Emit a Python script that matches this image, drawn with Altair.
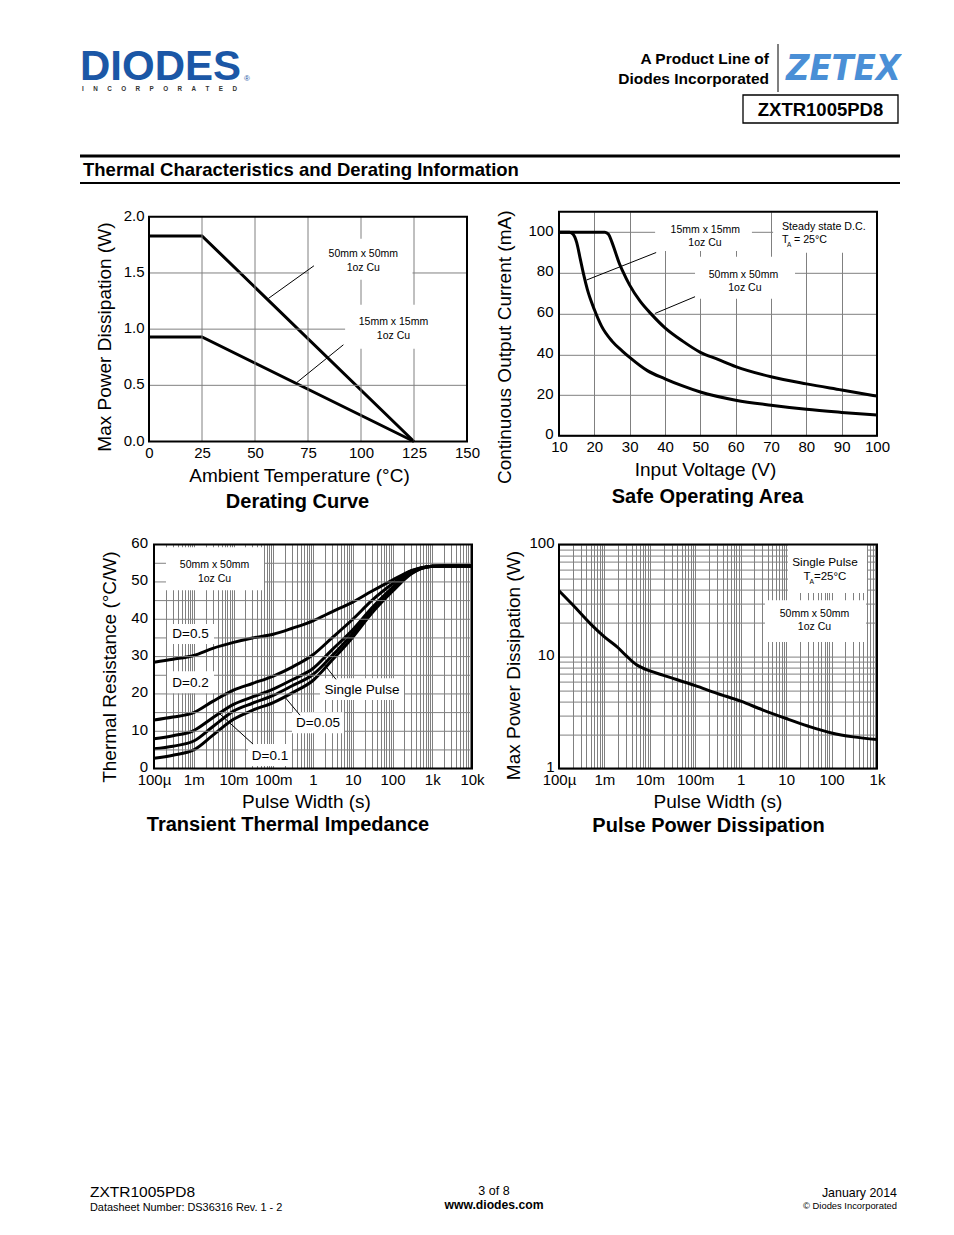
import altair as alt
import pandas as pd

FONT = "Liberation Sans"
GRID = "#808080"
ONE = pd.DataFrame({"k": [0]})

# ---------------- Derating curve ----------------
derate_temp = [0, 25, 125]
derate_50mm = [1.83, 1.83, 0.0]
derate_15mm = [0.93, 0.93, 0.0]
derate_xticks = [0, 25, 50, 75, 100, 125, 150]
derate_yticks = [0.0, 0.5, 1.0, 1.5, 2.0]

# ---------------- Safe operating area ----------------
soa_v_50mm = [10, 15, 20, 23, 24, 25, 26, 27, 28, 30, 33, 36, 40, 45, 50, 55, 60, 70, 80, 90, 100]
soa_i_50mm = [100, 100, 100, 100, 99, 95, 90, 85, 81, 74, 66, 60, 53, 46.5, 41, 37.5, 34, 29, 25.5, 22.5, 19.5]
soa_v_15mm = [10, 13, 14, 15, 16, 17, 18, 20, 22, 25, 28, 30, 35, 40, 45, 50, 60, 70, 80, 90, 100]
soa_i_15mm = [100, 100, 99, 95, 87, 79, 72, 62, 54, 46.5, 41.5, 38.5, 32, 28, 24.5, 21.5, 17.5, 15, 13, 11.5, 10.2]
soa_xticks = [10, 20, 30, 40, 50, 60, 70, 80, 90, 100]
soa_yticks = [0, 20, 40, 60, 80, 100]

# ---------------- Transient thermal impedance ----------------
tti_t = [1e-4, 3e-4, 1e-3, 3e-3, 1e-2, 3e-2, 1e-1, 3e-1, 1, 3, 10, 30, 100, 300, 1e3, 2e3, 1e4]
tti_d05 = [28.5, 29.3, 30.3, 32.2, 33.8, 35.0, 36.0, 37.6, 39.6, 42.0, 44.6, 47.5, 50.5, 53.0, 54.2, 54.3, 54.3]
tti_d02 = [13.0, 13.8, 15.0, 18.0, 21.0, 22.8, 24.8, 27.2, 30.5, 35.0, 40.0, 45.0, 49.5, 53.0, 54.2, 54.3, 54.3]
tti_d01 = [8.0, 8.8, 10.2, 13.6, 17.2, 19.2, 21.3, 23.8, 26.8, 31.8, 37.2, 43.0, 48.5, 52.6, 54.2, 54.3, 54.3]
tti_d005 = [5.3, 6.0, 7.4, 11.2, 15.4, 17.5, 19.6, 22.2, 25.2, 30.2, 36.2, 42.3, 48.0, 52.4, 54.2, 54.3, 54.3]
tti_single = [2.8, 3.6, 5.0, 8.9, 13.2, 15.6, 17.7, 20.3, 23.6, 29.0, 35.2, 41.6, 47.5, 52.2, 54.2, 54.3, 54.3]
tti_x_labels = ["100µ", "1m", "10m", "100m", "1", "10", "100", "1k", "10k"]
tti_yticks = [0, 10, 20, 30, 40, 50, 60]
tti_ygrid = [5, 10, 15, 20, 25, 30, 35, 40, 45, 50, 55]

# ---------------- Pulse power dissipation ----------------
ppd_t = [1e-4, 2e-4, 5e-4, 1e-3, 2e-3, 3e-3, 5e-3, 7e-3, 1e-2, 2e-2, 3e-2, 1e-1, 3e-1, 1, 3, 10, 30, 100, 300, 1e3]
ppd_p = [38.7, 29, 19.5, 15, 12, 10.2, 8.5, 7.9, 7.45, 6.8, 6.45, 5.5, 4.7, 4.0, 3.35, 2.8, 2.4, 2.08, 1.92, 1.82]
ppd_x_labels = ["100µ", "1m", "10m", "100m", "1", "10", "100", "1k"]
ppd_y_labels = ["1", "10", "100"]


# ---------------- helpers ----------------
def log_values(kmin, kmax):
    vals = []
    for k in range(kmin, kmax):
        for m in range(1, 10):
            vals.append(m * 10.0 ** k)
    vals.append(10.0 ** kmax)
    return vals


def decade_expr(labels, kmin):
    arr = "[" + ",".join("'" + s + "'" for s in labels) + "]"
    e = "log(datum.value)/LN10"
    return f"abs({e} - round({e})) > 0.01 ? '' : {arr}[round({e}) - ({kmin})]"


def ptext(txt, x, y, size, weight="normal", align="left", color="black", style="normal", font=FONT):
    return alt.Chart(ONE).mark_text(
        text=txt, font=font, fontSize=size, fontWeight=weight, fontStyle=style,
        align=align, baseline="alphabetic", color=color,
    ).encode(x=alt.value(x), y=alt.value(y))


def prule(x0, x1, y0, y1, width, color="black"):
    return alt.Chart(ONE).mark_rule(color=color, strokeWidth=width).encode(
        x=alt.value(x0), x2=alt.value(x1), y=alt.value(y0), y2=alt.value(y1))


def make_enc(sx, ax, sy, ay):
    def X(f):
        return alt.X(f, type="quantitative", scale=sx, axis=ax)

    def Y(f):
        return alt.Y(f, type="quantitative", scale=sy, axis=ay)
    return X, Y


def rect_layer(x0, x1, y0, y1, X, Y, **mk):
    df = pd.DataFrame({"x0": x0, "x1": x1, "y0": y0, "y1": y1})
    return alt.Chart(df).mark_rect(**mk).encode(
        x=X("x0"), x2=alt.X2("x1"), y=Y("y0"), y2=alt.Y2("y1"))


def seg_layer(x0, y0, x1, y1, X, Y, width=1, color="black"):
    df = pd.DataFrame({"x0": x0, "y0": y0, "x1": x1, "y1": y1})
    return alt.Chart(df).mark_rule(color=color, strokeWidth=width).encode(
        x=X("x0"), y=Y("y0"), x2=alt.X2("x1"), y2=alt.Y2("y1"))


def text_layer(xs, ys, texts, X, Y, size, align="center", dx=0, dy=0):
    df = pd.DataFrame({"x": xs, "y": ys, "t": texts})
    return alt.Chart(df).mark_text(
        font=FONT, fontSize=size, align=align, baseline="alphabetic", color="black", dx=dx, dy=dy
    ).encode(x=X("x"), y=Y("y"), text="t:N")


def frame(x0, x1, y0, y1, X, Y):
    return rect_layer([x0], [x1], [y0], [y1], X, Y, fillOpacity=0, stroke="black", strokeWidth=2)


def spacer(w, h):
    return alt.Chart(ONE).mark_point(size=0, opacity=0).encode(
        x=alt.value(w / 2), y=alt.value(h / 2)).properties(width=w, height=h)


# ================= Derating chart =================
dX, dY = make_enc(
    alt.Scale(domain=[0, 150], nice=False, zero=False),
    alt.Axis(values=derate_xticks, format="d", grid=False, labelPadding=4,
             title="Ambient Temperature (°C)", titleX=150, titleY=39.5),
    alt.Scale(domain=[0, 2.0445], nice=False, zero=False),
    alt.Axis(values=derate_yticks, format=".1f", grid=False, labelPadding=5, labelOffset=-1.5,
             title="Max Power Dissipation (W)", titleX=-38.5, titleY=124.8, titleAngle=270),
)
derate_df = pd.DataFrame({
    "T": derate_temp + derate_temp,
    "P": derate_50mm + derate_15mm,
    "s": ["50mm"] * len(derate_temp) + ["15mm"] * len(derate_temp),
})
d_lines = alt.Chart(derate_df).mark_line(color="black", strokeWidth=3).encode(
    x=dX("T"), y=dY("P"), detail="s:N")
d_vgrid = seg_layer([25, 50, 75, 100, 125], [0] * 5, [25, 50, 75, 100, 125], [2.0] * 5, dX, dY, color=GRID)
d_hgrid = seg_layer([0] * 3, [0.5, 1.0, 1.5], [150] * 3, [0.5, 1.0, 1.5], dX, dY, color=GRID)
d_boxes = rect_layer([75.5, 92.5], [124.3, 150], [1.804, 1.217], [1.439, 0.825], dX, dY, color="white")
d_leaders = seg_layer([56.3, 69.7], [1.273, 0.525], [77.8, 91.7], [1.564, 0.861], dX, dY)
d_texts = text_layer([101.1, 101.1, 115.3, 115.3], [1.641, 1.519, 1.039, 0.914],
                     ["50mm x 50mm", "1oz Cu", "15mm x 15mm", "1oz Cu"], dX, dY, 10.5)
d_caption = ptext("Derating Curve", 148.5, 296.3, 20, weight="bold", align="center")
derating = alt.layer(
    d_lines, d_vgrid, d_hgrid, d_boxes, d_leaders, d_texts,
    frame(0, 150, 0, 2.0, dX, dY), d_caption,
).properties(width=318, height=229.7)

# ================= SOA chart =================
sX, sY = make_enc(
    alt.Scale(domain=[10, 100], nice=False, zero=False),
    alt.Axis(values=soa_xticks, format="d", grid=True, labelPadding=3.5,
             title="Input Voltage (V)", titleX=146, titleY=40),
    alt.Scale(domain=[0, 110], nice=False, zero=False),
    alt.Axis(values=soa_yticks, format="d", grid=True, labelPadding=6, labelOffset=-2,
             title="Continuous Output Current (mA)", titleX=-49, titleY=135, titleAngle=270),
)
soa_df = pd.DataFrame({
    "V": soa_v_50mm + soa_v_15mm,
    "I": soa_i_50mm + soa_i_15mm,
    "s": ["50mm"] * len(soa_v_50mm) + ["15mm"] * len(soa_v_15mm),
})
s_lines = alt.Chart(soa_df).mark_line(color="black", strokeWidth=3, interpolate="monotone").encode(
    x=sX("V"), y=sY("I"), detail="s:N")
s_boxes = rect_layer([37.2, 70.6, 48.5], [64.6, 100, 76.8], [110, 110, 87.9], [90.8, 89.9, 67.3],
                     sX, sY, color="white")
s_leaders = seg_layer([17.8, 37.2], [76.5, 60.1], [37.5, 48.5], [90.0, 68.3], sX, sY)
s_texts = text_layer([51.4, 51.3, 62.2, 62.6], [99.7, 93.1, 77.6, 71.0],
                     ["15mm x 15mm", "1oz Cu", "50mm x 50mm", "1oz Cu"], sX, sY, 10.5)
s_steady = text_layer([73.1], [101.0], ["Steady state D.C."], sX, sY, 10.7, align="left")
s_ta_t = text_layer([73.1], [94.5], ["T"], sX, sY, 10.7, align="left")
s_ta_a = text_layer([73.1], [94.5], ["A"], sX, sY, 6.5, align="left", dx=5, dy=4)
s_ta_v = text_layer([73.1], [94.5], ["= 25°C"], sX, sY, 10.7, align="left", dx=12)
s_caption = ptext("Safe Operating Area", 148.5, 291.5, 20, weight="bold", align="center")
soa = alt.layer(
    s_lines, s_boxes, s_leaders, s_texts, s_steady, s_ta_t, s_ta_a, s_ta_v,
    frame(10, 100, 0, 110, sX, sY), s_caption,
).properties(width=318, height=224)

# ================= Transient thermal impedance =================
# cell starts 5 px left of the frame (domain extended by 5 px on the log axis)
tX, tY = make_enc(
    alt.Scale(type="log", domain=[7.485e-5, 1e4], nice=False),
    alt.Axis(values=log_values(-4, 4), labelExpr=decade_expr(tti_x_labels, -4), grid=True,
             labelPadding=3.5, title="Pulse Width (s)", titleX=157, titleY=38.5),
    alt.Scale(domain=[0, 60], nice=False, zero=False),
    alt.Axis(values=tti_yticks, format="d", grid=False, labelPadding=1.5, labelOffset=-2,
             title="Thermal Resistance (°C/W)", titleX=-33.5, titleY=122, titleAngle=270),
)
tti_series = [("D=0.5", tti_d05), ("D=0.2", tti_d02), ("D=0.1", tti_d01),
              ("D=0.05", tti_d005), ("Single Pulse", tti_single)]
tti_df = pd.DataFrame({
    "t": [v for _ in tti_series for v in tti_t],
    "R": [v for _, ser in tti_series for v in ser],
    "s": [name for name, ser in tti_series for _ in ser],
})
t_lines = alt.Chart(tti_df).mark_line(color="black", strokeWidth=3, interpolate="monotone").encode(
    x=tX("t"), y=tY("R"), detail="s:N")
t_hgrid = seg_layer([1e-4] * len(tti_ygrid), tti_ygrid, [1e4] * len(tti_ygrid), tti_ygrid, tX, tY, color=GRID)
t_boxes = rect_layer(
    [2.0e-4, 2.12e-4, 2.12e-4, 0.0232, 0.296, 1.5],
    [0.0585, 3.23e-3, 3.23e-3, 0.296, 6.03, 194.5],
    [59.3, 38.7, 26.1, 6.56, 15.1, 24.2],
    [47.8, 33.35, 20.2, 0.67, 9.5, 18.35],
    tX, tY, color="white")
t_leaders = seg_layer([4.07e-3, 0.186, 1.79], [15.1, 19.45, 28.3],
                      [0.031, 0.471, 3.79], [6.56, 14.3, 23.9], tX, tY)
t_small = text_layer([3.33e-3, 3.33e-3], [53.6, 49.9], ["50mm x 50mm", "1oz Cu"], tX, tY, 10.5)
t_labels = text_layer([8.28e-4, 8.28e-4, 0.0828, 1.336, 17.1], [34.96, 21.75, 2.28, 11.1, 19.96],
                      ["D=0.5", "D=0.2", "D=0.1", "D=0.05", "Single Pulse"], tX, tY, 13.5)
t_caption = ptext("Transient Thermal Impedance", 139, 286.5, 20, weight="bold", align="center")
thermal = alt.layer(
    t_lines, t_hgrid, t_boxes, t_leaders, t_small, t_labels,
    frame(1e-4, 1e4, 0, 60, tX, tY), t_caption,
).properties(width=323, height=224)

# ================= Pulse power dissipation =================
pX, pY = make_enc(
    alt.Scale(type="log", domain=[1e-4, 1e3], nice=False),
    alt.Axis(values=log_values(-4, 3), labelExpr=decade_expr(ppd_x_labels, -4), grid=True,
             labelPadding=3.5, title="Pulse Width (s)", titleX=158.5, titleY=38.5),
    alt.Scale(type="log", domain=[1, 100], nice=False),
    alt.Axis(values=log_values(0, 2), labelExpr=decade_expr(ppd_y_labels, 0), grid=True,
             labelPadding=5, labelOffset=-2,
             title="Max Power Dissipation (W)", titleX=-39.7, titleY=120.5, titleAngle=270),
)
ppd_df = pd.DataFrame({"t": ppd_t, "P": ppd_p})
p_line = alt.Chart(ppd_df).mark_line(color="black", strokeWidth=3, interpolate="monotone").encode(
    x=pX("t"), y=pY("P"))
p_boxes = rect_layer([11.0, 3.42], [602, 573], [100, 31.9], [36.9, 13.5], pX, pY, color="white")
p_single = text_layer([71.6], [64.3], ["Single Pulse"], pX, pY, 11.8)
p_texts = text_layer([42.1, 42.1], [22.8, 17.4], ["50mm x 50mm", "1oz Cu"], pX, pY, 10.5)
p_ta_t = text_layer([24.0], [48.7], ["T"], pX, pY, 11.5, align="left")
p_ta_a = text_layer([24.0], [48.7], ["A"], pX, pY, 6.8, align="left", dx=6, dy=4)
p_ta_v = text_layer([24.0], [48.7], ["=25°C"], pX, pY, 11.5, align="left", dx=10.5)
p_caption = ptext("Pulse Power Dissipation", 149.5, 287, 20, weight="bold", align="center")
pulse = alt.layer(
    p_line, p_boxes, p_single, p_texts, p_ta_t, p_ta_a, p_ta_v,
    frame(1e-4, 1e3, 1, 100, pX, pY), p_caption,
).properties(width=318, height=224)

# ================= Header =================
incorporated = "\u2003\u2002".join(list("INCORPORATED"))
header = alt.layer(
    ptext("DIODES", 72, 72, 42, weight="bold", color="#1b57a6"),
    ptext("®", 236, 73, 8, color="#1b57a6"),
    ptext(incorporated, 74, 82.5, 6.3, weight="bold", color="#333333"),
    ptext("A Product Line of", 761, 56, 15.5, weight="bold", align="right"),
    ptext("Diodes Incorporated", 761, 76, 15.5, weight="bold", align="right"),
    prule(770, 770, 36, 84, 1.5, color="#555555"),
    ptext("ZETEX", 778, 71.5, 36, weight="bold", style="italic", color="#4a8fd6",
          font="Liberation Sans Narrow, DejaVu Sans Condensed, Liberation Sans"),
    alt.Chart(ONE).mark_rect(fillOpacity=0, stroke="black", strokeWidth=1.3).encode(
        x=alt.value(735), x2=alt.value(890), y=alt.value(87), y2=alt.value(115)),
    ptext("ZXTR1005PD8", 812.5, 108, 18.5, weight="bold", align="center"),
    prule(72, 892, 148, 148, 3),
    ptext("Thermal Characteristics and Derating Information", 75, 168, 18.5, weight="bold"),
    prule(72, 892, 175, 175, 2),
).properties(width=1, height=100.2)

# ================= Footer =================
footer = alt.layer(
    ptext("ZXTR1005PD8", 82, 325.7, 15.5),
    ptext("Datasheet Number: DS36316 Rev. 1 - 2", 82, 339.2, 10.9),
    ptext("3 of 8", 486, 323.7, 12.5, align="center"),
    ptext("www.diodes.com", 486, 337.7, 12.2, weight="bold", align="center"),
    ptext("January 2014", 889, 325.2, 12.4, align="right"),
    ptext("© Diodes Incorporated", 889, 337.2, 9.4, align="right"),
).properties(width=1, height=350)

# grid layout: column widths 141 | 323 | 87 | 318 (flush bounds)
cells = [
    header, spacer(1, 1), spacer(1, 1), spacer(1, 1),
    spacer(141, 1), derating, spacer(87, 1), soa,
    spacer(141, 1), thermal, spacer(87, 1), pulse,
    footer, spacer(1, 1), spacer(1, 1), spacer(1, 1),
]

chart = alt.concat(
    *cells, columns=4,
    spacing={"row": 102.8, "column": 0},
    bounds="flush",
    align="each",
).properties(
    padding=0, background="white"
).configure_view(
    strokeWidth=0
).configure_axis(
    domain=False, ticks=False, gridColor=GRID, gridWidth=1, gridOpacity=1,
    labelFont=FONT, labelFontSize=15, labelColor="black",
    titleFont=FONT, titleFontSize=19, titleFontWeight="normal", titleColor="black",
    titleBaseline="alphabetic", titleAlign="center",
    labelFlush=False, labelOverlap=False,
)

chart.save("out.html", embed_options={"renderer": "svg", "actions": False})
